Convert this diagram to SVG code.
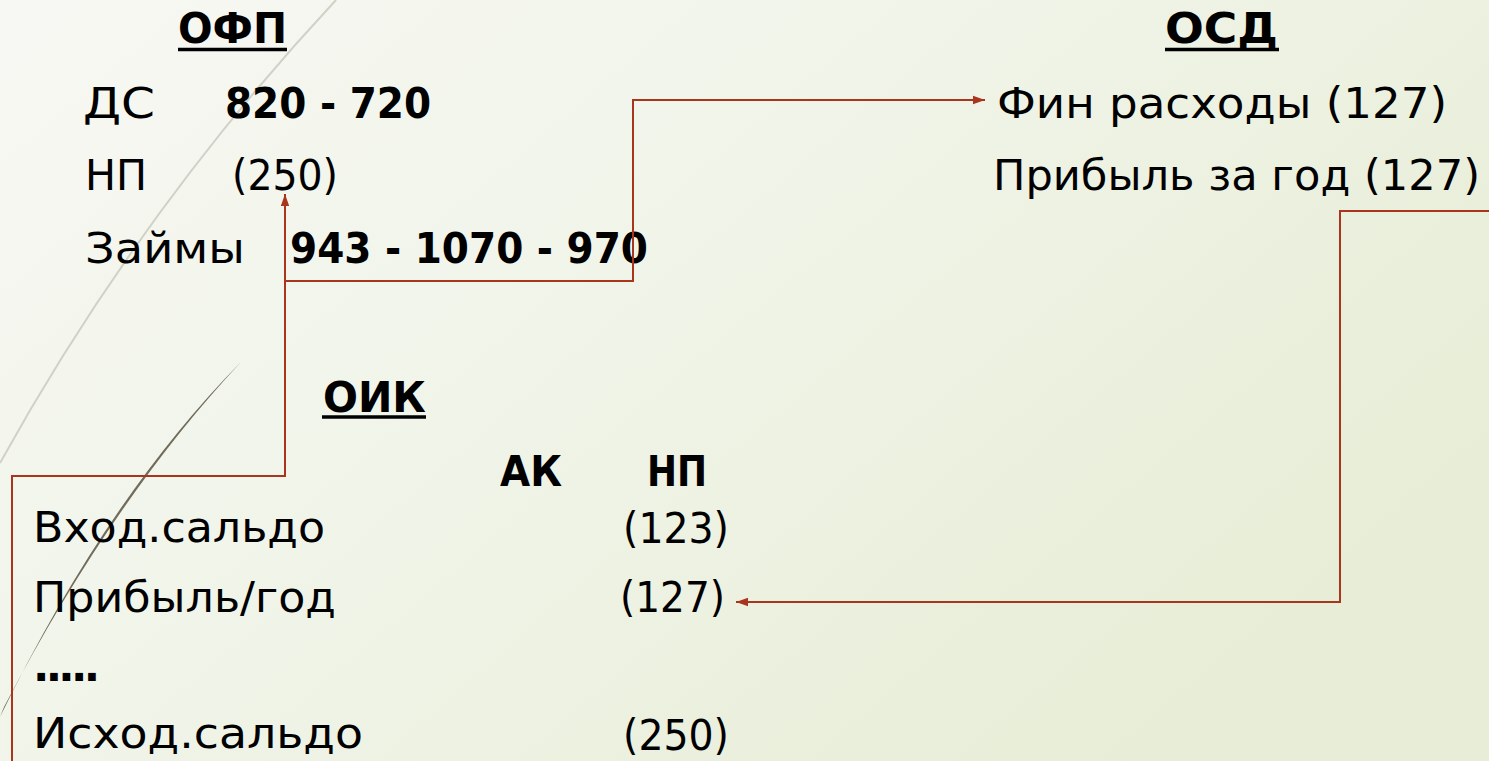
<svg xmlns="http://www.w3.org/2000/svg" width="1489" height="761" viewBox="0 0 1489 761">
<defs>
<linearGradient id="bg" x1="0" y1="0" x2="1" y2="0.6">
<stop offset="0" stop-color="#f7f8f3"/>
<stop offset="0.5" stop-color="#f0f4e8"/>
<stop offset="1" stop-color="#e7edd6"/>
</linearGradient>
<marker id="ah" viewBox="0 0 10 10" refX="10" refY="5" markerWidth="6" markerHeight="6" orient="auto" markerUnits="strokeWidth">
<path d="M0,1.5 L10,5 L0,8.5 z" fill="#a8351c"/>
</marker>
<style>
text{font-family:"DejaVu Sans","Noto Sans",sans-serif;font-size:43px;fill:#000}
.b{font-weight:bold}
.ul{stroke:#000;stroke-width:3.5}
.c{fill:none;stroke:#a8351c;stroke-width:2}
</style>
</defs>
<rect width="1489" height="761" fill="url(#bg)"/>
<g id="decor">
<path d="M336 0 Q140 210 0 463" fill="none" stroke="#d0d1c7" stroke-width="2"/>
<path d="M241 362 Q112 500 4 707 L0 717 Q106 499 240 363 Z" fill="#716c5b"/>
</g>
<g id="ofp">
<text class="b" x="178" y="43" textLength="109" lengthAdjust="spacingAndGlyphs">ОФП</text>
<line class="ul" x1="178" y1="49.5" x2="287" y2="49.5"/>
<text x="83" y="118" textLength="72" lengthAdjust="spacingAndGlyphs">ДС</text>
<text class="b" x="225" y="118" textLength="206" lengthAdjust="spacingAndGlyphs">820 - 720</text>
<text x="85" y="190" textLength="62" lengthAdjust="spacingAndGlyphs">НП</text>
<text x="232" y="190" textLength="106" lengthAdjust="spacingAndGlyphs">(250)</text>
<text x="85" y="263" textLength="160" lengthAdjust="spacingAndGlyphs">Займы</text>
<text class="b" x="290" y="263" textLength="358" lengthAdjust="spacingAndGlyphs">943 - 1070 - 970</text>
</g>
<g id="osd">
<text class="b" x="1165" y="43" textLength="113" lengthAdjust="spacingAndGlyphs">ОСД</text>
<line class="ul" x1="1165" y1="49.5" x2="1279" y2="49.5"/>
<text x="997" y="118" textLength="450" lengthAdjust="spacingAndGlyphs">Фин расходы (127)</text>
<text x="993" y="190" textLength="487" lengthAdjust="spacingAndGlyphs">Прибыль за год (127)</text>
</g>
<g id="oik">
<text class="b" x="323" y="412" textLength="103" lengthAdjust="spacingAndGlyphs">ОИК</text>
<line class="ul" x1="322" y1="417" x2="426" y2="417"/>
<text class="b" x="500" y="486" textLength="62" lengthAdjust="spacingAndGlyphs">АК</text>
<text class="b" x="647" y="486" textLength="60" lengthAdjust="spacingAndGlyphs">НП</text>
<text x="33" y="542" textLength="292" lengthAdjust="spacingAndGlyphs">Вход.сальдо</text>
<text x="623" y="543" textLength="106" lengthAdjust="spacingAndGlyphs">(123)</text>
<text x="33" y="612" textLength="303" lengthAdjust="spacingAndGlyphs">Прибыль/год</text>
<text x="620" y="612" textLength="105" lengthAdjust="spacingAndGlyphs">(127)</text>
<text class="b" x="33" y="681" textLength="67" lengthAdjust="spacing">.....</text>
<text x="33" y="748" textLength="330" lengthAdjust="spacingAndGlyphs">Исход.сальдо</text>
<text x="623" y="750" textLength="106" lengthAdjust="spacingAndGlyphs">(250)</text>
</g>
<g id="connectors">
<path class="c" d="M12 761 V476 H285 V194" marker-end="url(#ah)"/>
<path class="c" d="M285 281 H633 V100 H985" marker-end="url(#ah)"/>
<path class="c" d="M1489 211 H1340 V602 H736" marker-end="url(#ah)"/>
</g>
</svg>
